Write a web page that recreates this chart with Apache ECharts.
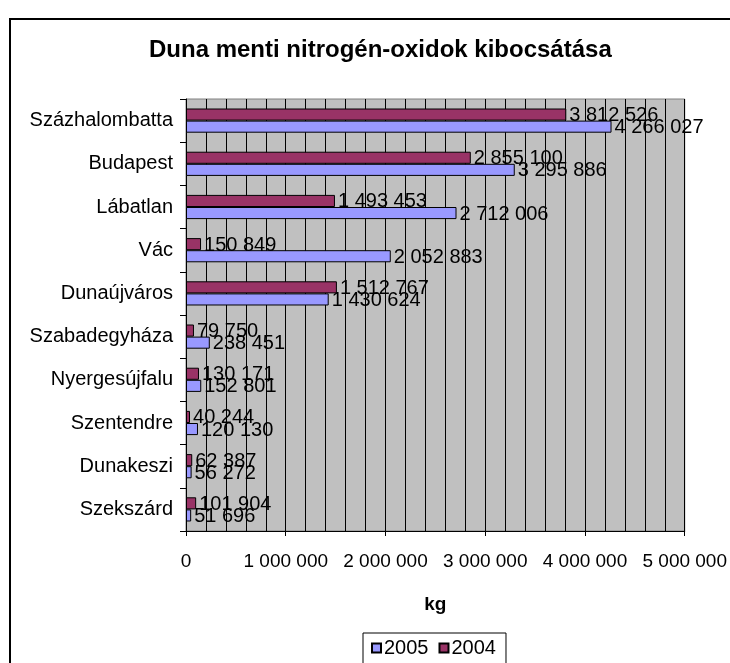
<!DOCTYPE html>
<html>
<head>
<meta charset="utf-8">
<script src="https://cdn.jsdelivr.net/npm/echarts@6/dist/echarts.min.js"></script>
<style>html,body{margin:0;padding:0;background:#fff}#c{width:730px;height:663px}</style>
</head>
<body>
<div id="c"></div>
<script>
var categories = ['Százhalombatta','Budapest','Lábatlan','Vác','Dunaújváros','Szabadegyháza','Nyergesújfalu','Szentendre','Dunakeszi','Szekszárd'];
var values2005 = [4266027, 3295886, 2712006, 2052883, 1430624, 238451, 152801, 120130, 56272, 51696];
var values2004 = [3812526, 2855100, 1493453, 150849, 1512767, 79750, 130171, 40244, 62387, 101904];
var xTicks = [0, 1000000, 2000000, 3000000, 4000000, 5000000];

function fmt(v){ return String(v).replace(/\B(?=(\d{3})+(?!\d))/g, ' '); }
var FONT = 'Liberation Sans, Arial, sans-serif';

var chart = echarts.init(document.getElementById('c'));
chart.setOption({
  animation: false,
  textStyle: { fontFamily: FONT },
  title: {
    text: 'Duna menti nitrogén-oxidok kibocsátása',
    left: 144, top: 33,
    textStyle: { fontFamily: FONT, fontSize: 24, fontWeight: 'bold', color: '#000' }
  },
  graphic: [{
    type: 'rect', shape: { x: 10, y: 19, width: 900, height: 900 },
    style: { fill: 'none', stroke: '#000', lineWidth: 2 }, silent: true, z: -1
  }],
  legend: {
    data: ['2005', '2004'],
    left: 363, top: 633,
    borderColor: '#000', borderWidth: 1, borderRadius: 0,
    padding: [5, 10, 10, 8],
    itemWidth: 9, itemHeight: 9, itemGap: 10,
    icon: 'rect',
    textStyle: { fontFamily: FONT, fontSize: 20, color: '#000', padding: [0, 0, 0, -2] }
  },
  grid: { left: 186, top: 99, right: 44, bottom: 132, show: true, backgroundColor: '#C0C0C0', borderColor: '#808080', borderWidth: 1 },
  xAxis: {
    type: 'value', min: xTicks[0], max: xTicks[xTicks.length - 1], interval: 1000000,
    name: 'kg', nameLocation: 'middle', nameGap: 64,
    nameTextStyle: { fontFamily: FONT, fontSize: 19, fontWeight: 'bold', color: '#000' },
    axisLine: { show: true, lineStyle: { color: '#000', width: 1 } },
    axisTick: { show: true, length: 5, lineStyle: { color: '#000' } },
    axisLabel: { margin: 21, fontSize: 19, color: '#000', fontFamily: FONT, formatter: function(v){ return fmt(v); } },
    splitLine: { show: true, lineStyle: { color: '#000', width: 1 } },
    minorTick: { show: false, splitNumber: 5 },
    minorSplitLine: { show: true, lineStyle: { color: '#000', width: 1 } }
  },
  yAxis: {
    type: 'category', data: categories, inverse: true,
    axisLine: { show: true, lineStyle: { color: '#000', width: 1 } },
    axisTick: { show: true, length: 6, alignWithLabel: false, lineStyle: { color: '#000' } },
    axisLabel: { margin: 13, fontSize: 20, color: '#000', fontFamily: FONT },
    splitLine: { show: false }
  },
  series: [
    {
      name: '2004', type: 'bar', data: values2004,
      barGap: '0%', barCategoryGap: '44%',
      itemStyle: { color: '#993366', borderColor: '#000', borderWidth: 1 },
      label: { show: true, position: 'right', distance: 3, offset: [0, 1], color: '#000', fontSize: 20, fontFamily: FONT, formatter: function(p){ return fmt(p.value); } }
    },
    {
      name: '2005', type: 'bar', data: values2005,
      barGap: '0%', barCategoryGap: '44%',
      itemStyle: { color: '#9999FF', borderColor: '#000', borderWidth: 1 },
      label: { show: true, position: 'right', distance: 3, offset: [0, 1], color: '#000', fontSize: 20, fontFamily: FONT, formatter: function(p){ return fmt(p.value); } }
    }
  ]
});
</script>
</body>
</html>
